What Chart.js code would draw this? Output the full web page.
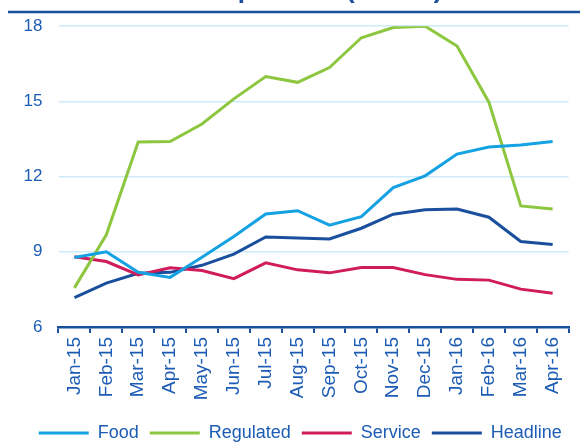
<!DOCTYPE html>
<html>
<head>
<meta charset="utf-8">
<script src="https://cdn.jsdelivr.net/npm/chart.js@4.4.1/dist/chart.umd.min.js"></script>
<style>
  html, body { margin: 0; padding: 0; background: #ffffff; }
  #wrap { position: relative; width: 580px; height: 446px; }
</style>
</head>
<body>
<div id="wrap"><canvas id="chart"></canvas></div>
<script>
const months = ['Jan-15', 'Feb-15', 'Mar-15', 'Apr-15', 'May-15', 'Jun-15', 'Jul-15', 'Aug-15',
    'Sep-15', 'Oct-15', 'Nov-15', 'Dec-15', 'Jan-16', 'Feb-16', 'Mar-16', 'Apr-16'];

const food = [8.77, 9.0, 8.18, 7.98, 8.78, 9.61, 10.51, 10.64, 10.06, 10.4, 11.56, 12.03, 12.9, 13.18, 13.26, 13.4];
const regulated = [7.56, 9.68, 13.38, 13.4, 14.1, 15.1, 15.99, 15.76, 16.35, 17.54, 17.95, 18.0, 17.21, 14.97, 10.83, 10.71];
const service = [8.8, 8.61, 8.08, 8.36, 8.25, 7.93, 8.56, 8.28, 8.16, 8.37, 8.37, 8.09, 7.9, 7.87, 7.51, 7.35];
const headline = [7.17, 7.75, 8.14, 8.18, 8.46, 8.91, 9.59, 9.55, 9.51, 9.94, 10.5, 10.68, 10.71, 10.38, 9.41, 9.29];

const yTicks = [6, 9, 12, 15, 18];
const titleText = 'Inflation components (% YoY)';

const TEXT_BLUE = '#1d5cb4';
const DARK_BLUE = '#1a4f9e';
const FONT = '"Liberation Sans", Arial, sans-serif';

// titulo cortado arriba + linea azul
const headerPlugin = {
    id: 'header',
    afterLayout(chart) {
        // correr la leyenda un poco a la derecha (centrada como el original)
        const lg = chart.legend;
        if (lg) {
            lg.left += 16;
            lg.right += 16;
        }
    },
    afterDraw(chart) {
        const ctx = chart.ctx;
        ctx.save();
        ctx.fillStyle = DARK_BLUE;
        ctx.font = 'bold 26px ' + FONT;
        ctx.textAlign = 'left';
        ctx.textBaseline = 'alphabetic';
        ctx.fillText(titleText, 76, -2.5);
        ctx.strokeStyle = DARK_BLUE;
        ctx.lineWidth = 2.5;
        ctx.beginPath();
        ctx.moveTo(8, 12);
        ctx.lineTo(580, 12);
        ctx.stroke();
        ctx.restore();
    }
};

function line(label, data, color) {
    return {
        label: label,
        data: data,
        borderColor: color,
        backgroundColor: color,
        borderWidth: 3,
        pointRadius: 0,
        tension: 0,
        fill: false
    };
}

new Chart(document.getElementById('chart').getContext('2d'), {
    type: 'line',
    data: {
        labels: months,
        datasets: [
            line('Food', food, '#14a2e3'),
            line('Regulated', regulated, '#8dc63f'),
            line('Service', service, '#d11c5b'),
            line('Headline', headline, DARK_BLUE)
        ]
    },
    options: {
        responsive: true,
        maintainAspectRatio: false,
        animation: false,
        layout: {
            padding: { top: 24, right: 11.4, bottom: -6, left: 0 }
        },
        plugins: {
            legend: {
                position: 'bottom',
                labels: {
                    boxWidth: 50,
                    boxHeight: 3,
                    padding: 11,
                    color: TEXT_BLUE,
                    font: { family: FONT, size: 18 },
                    generateLabels: function (chart) {
                        // solo una barrita, sin borde
                        const items = Chart.defaults.plugins.legend.labels.generateLabels(chart);
                        items.forEach(it => { it.lineWidth = 0; it.fillStyle = it.strokeStyle; });
                        return items;
                    }
                }
            },
            tooltip: { enabled: false }
        },
        scales: {
            x: {
                offset: true,
                grid: {
                    offset: true,
                    drawOnChartArea: false,
                    drawTicks: true,
                    tickLength: 6,
                    lineWidth: 2,
                    color: DARK_BLUE
                },
                border: { display: true, color: DARK_BLUE, width: 2.5 },
                ticks: {
                    autoSkip: false,
                    minRotation: 90,
                    maxRotation: 90,
                    padding: 4,
                    color: TEXT_BLUE,
                    font: { family: FONT, size: 19 }
                },
                afterFit: function (scale) {
                    scale.height = 86;
                }
            },
            y: {
                min: 6,
                max: 18,
                afterBuildTicks: function (scale) {
                    scale.ticks = yTicks.map(v => ({ value: v }));
                },
                grid: {
                    color: '#cdebf8',
                    lineWidth: 1.5,
                    drawTicks: false
                },
                border: { display: false },
                ticks: {
                    padding: 16,
                    color: TEXT_BLUE,
                    font: { family: FONT, size: 17 }
                },
                afterFit: function (scale) {
                    scale.width = 58.5;
                }
            }
        }
    },
    plugins: [headerPlugin]
});
</script>
</body>
</html>
